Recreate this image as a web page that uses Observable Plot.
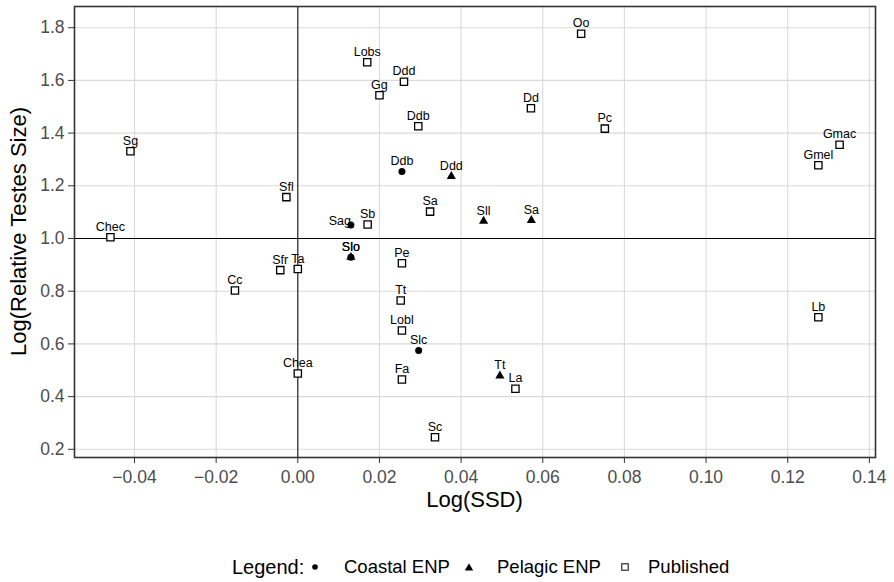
<!DOCTYPE html>
<html>
<head>
<meta charset="utf-8">
<script src="https://cdn.jsdelivr.net/npm/d3@7"></script>
<script src="https://cdn.jsdelivr.net/npm/@observablehq/plot@0.6"></script>
<style>
  body { margin: 0; background: #fff; font-family: "Liberation Sans", Arial, Helvetica, sans-serif; }
  #wrap { width: 894px; position: relative; }
  #legend { position: relative; width: 894px; height: 52px; }
  #legend span { position: absolute; top: 37px; transform: translateY(-50%); white-space: nowrap; color: #000; }
  #legend svg { position: absolute; }
</style>
</head>
<body>
<div id="wrap"></div>
<script>
// ---- data ----
const species = ["Chec","Sg","Sfl","Lobs","Ddd","Gg","Ddb","Dd","Oo","Sa","Sb","Pc","Gmac","Gmel","Lb","Sfr","Ta","Cc","Chea","Pe","Tt","Lobl","Fa","La","Sc",
                 "Sag","Ddb","Slc","Slo",
                 "Ddd","Sll","Sa","Tt","Slo"];
const ssd = [-0.0459,-0.0410,-0.0028,0.0170,0.0260,0.0200,0.0295,0.0571,0.0694,0.0324,0.0171,0.0752,0.1327,0.1275,0.1275,-0.0043,0.0000,-0.0154,0.0000,0.0255,0.0252,0.0255,0.0255,0.0533,0.0336,
             0.0130,0.0255,0.0296,0.0130,
             0.0376,0.0455,0.0572,0.0495,0.0130];
const relTestes = [1.005,1.331,1.157,1.669,1.595,1.544,1.426,1.494,1.777,1.102,1.053,1.417,1.356,1.278,0.701,0.880,0.884,0.803,0.488,0.906,0.765,0.651,0.465,0.430,0.246,
                   1.051,1.254,0.575,0.929,
                   1.236,1.066,1.069,0.479,0.929];
const group = ["Published","Published","Published","Published","Published","Published","Published","Published","Published","Published","Published","Published","Published","Published","Published","Published","Published","Published","Published","Published","Published","Published","Published","Published","Published",
               "Coastal ENP","Coastal ENP","Coastal ENP","Coastal ENP",
               "Pelagic ENP","Pelagic ENP","Pelagic ENP","Pelagic ENP","Pelagic ENP"];
const groupNames = ["Coastal ENP","Pelagic ENP","Published"];
const leftLabels = ["Sag"];
const xTicks = [-0.04,-0.02,0,0.02,0.04,0.06,0.08,0.10,0.12,0.14];
const yTicks = [0.2,0.4,0.6,0.8,1.0,1.2,1.4,1.6,1.8];
const xTitle = "Log(SSD)";
const yTitle = "Log(Relative Testes Size)";
const legendTitle = "Legend:";

const rows = species.map((s, i) => ({name: s, x: ssd[i], y: relTestes[i], group: group[i]}));
const byGroup = g => rows.filter(d => d.group === g);
const centerLabels = rows.filter(d => !leftLabels.includes(d.name) || d.group !== "Coastal ENP");
const sideLabels = rows.filter(d => leftLabels.includes(d.name) && d.group === "Coastal ENP");

const W = 894, H = 530;
const chart = Plot.plot({
  width: W, height: H,
  marginTop: 6, marginBottom: 73, marginLeft: 74, marginRight: 19,
  style: {fontFamily: '"Liberation Sans", Arial, Helvetica, sans-serif', background: "#fff", overflow: "visible"},
  x: {domain: [-0.0547, 0.1415], label: null},
  y: {domain: [0.1689, 1.8805], label: null},
  marks: [
    Plot.gridX(xTicks, {stroke: "#dadada", strokeOpacity: 1, strokeWidth: 1.1}),
    Plot.gridY(yTicks, {stroke: "#dadada", strokeOpacity: 1, strokeWidth: 1.1}),
    Plot.ruleX([0], {stroke: "#000", strokeWidth: 1}),
    Plot.ruleY([1], {stroke: "#000", strokeWidth: 1}),
    Plot.frame({stroke: "#333", strokeWidth: 1.6}),
    Plot.axisX(xTicks, {tickSize: 6, tickPadding: 7, fontSize: 17.5, fill: "#4d4d4d", stroke: "#333", tickFormat: d3.format(".2f"), label: null}),
    Plot.axisY(yTicks, {tickSize: 6, tickPadding: 4, fontSize: 17.5, fill: "#4d4d4d", stroke: "#333", tickFormat: d3.format(".1f"), label: null}),
    Plot.dot(byGroup("Published"), {x: "x", y: "y", symbol: "square", r: 4.1, stroke: "#000", strokeWidth: 1.3, fill: "#fff"}),
    Plot.dot(byGroup("Coastal ENP"), {x: "x", y: "y", symbol: "circle", r: 3.5, fill: "#000", stroke: "none"}),
    Plot.dot(byGroup("Pelagic ENP"), {x: "x", y: "y", symbol: "triangle", r: 3.4, fill: "#000", stroke: "none"}),
    Plot.text(centerLabels, {x: "x", y: "y", text: "name", dy: -10.5, fontSize: 12.5, fill: "#000"}),
    Plot.text(sideLabels, {x: "x", y: "y", text: "name", dy: -4, dx: 0, textAnchor: "end", fontSize: 12.5, fill: "#000"})
  ]
});

const svg = d3.select(chart);
svg.append("text")
  .attr("x", (74 + (W - 19)) / 2).attr("y", 507)
  .attr("text-anchor", "middle").attr("font-size", 22).attr("fill", "#000")
  .text(xTitle);
svg.append("text")
  .attr("transform", `translate(26,${(6 + (H - 73)) / 2}) rotate(-90)`)
  .attr("text-anchor", "middle").attr("font-size", 22).attr("fill", "#000")
  .text(yTitle);

const wrap = document.getElementById("wrap");
wrap.appendChild(chart);

// ---- legend (HTML below the SVG) ----
const legend = document.createElement("div");
legend.id = "legend";
const lt = document.createElement("span");
lt.textContent = legendTitle;
lt.style.left = "232px"; lt.style.fontSize = "20px";
legend.appendChild(lt);
const legendPos = [{m: 315, t: 344}, {m: 469, t: 497}, {m: 625, t: 648}];
const markerSvg = [
  '<circle cx="6" cy="6" r="2.8" fill="#000"/>',
  '<path d="M6,2.2 L10.2,9.4 L1.8,9.4 Z" fill="#000"/>',
  '<rect x="2.8" y="2.8" width="6.4" height="6.4" fill="#fff" stroke="#000" stroke-width="1"/>'
];
groupNames.forEach((g, i) => {
  const m = document.createElementNS("http://www.w3.org/2000/svg", "svg");
  m.setAttribute("width", 12); m.setAttribute("height", 12);
  m.style.left = (legendPos[i].m - 6) + "px"; m.style.top = (37 - 6) + "px";
  m.innerHTML = markerSvg[i];
  legend.appendChild(m);
  const s = document.createElement("span");
  s.textContent = g;
  s.style.left = legendPos[i].t + "px"; s.style.fontSize = "18.5px";
  legend.appendChild(s);
});
wrap.appendChild(legend);
</script>
</body>
</html>
